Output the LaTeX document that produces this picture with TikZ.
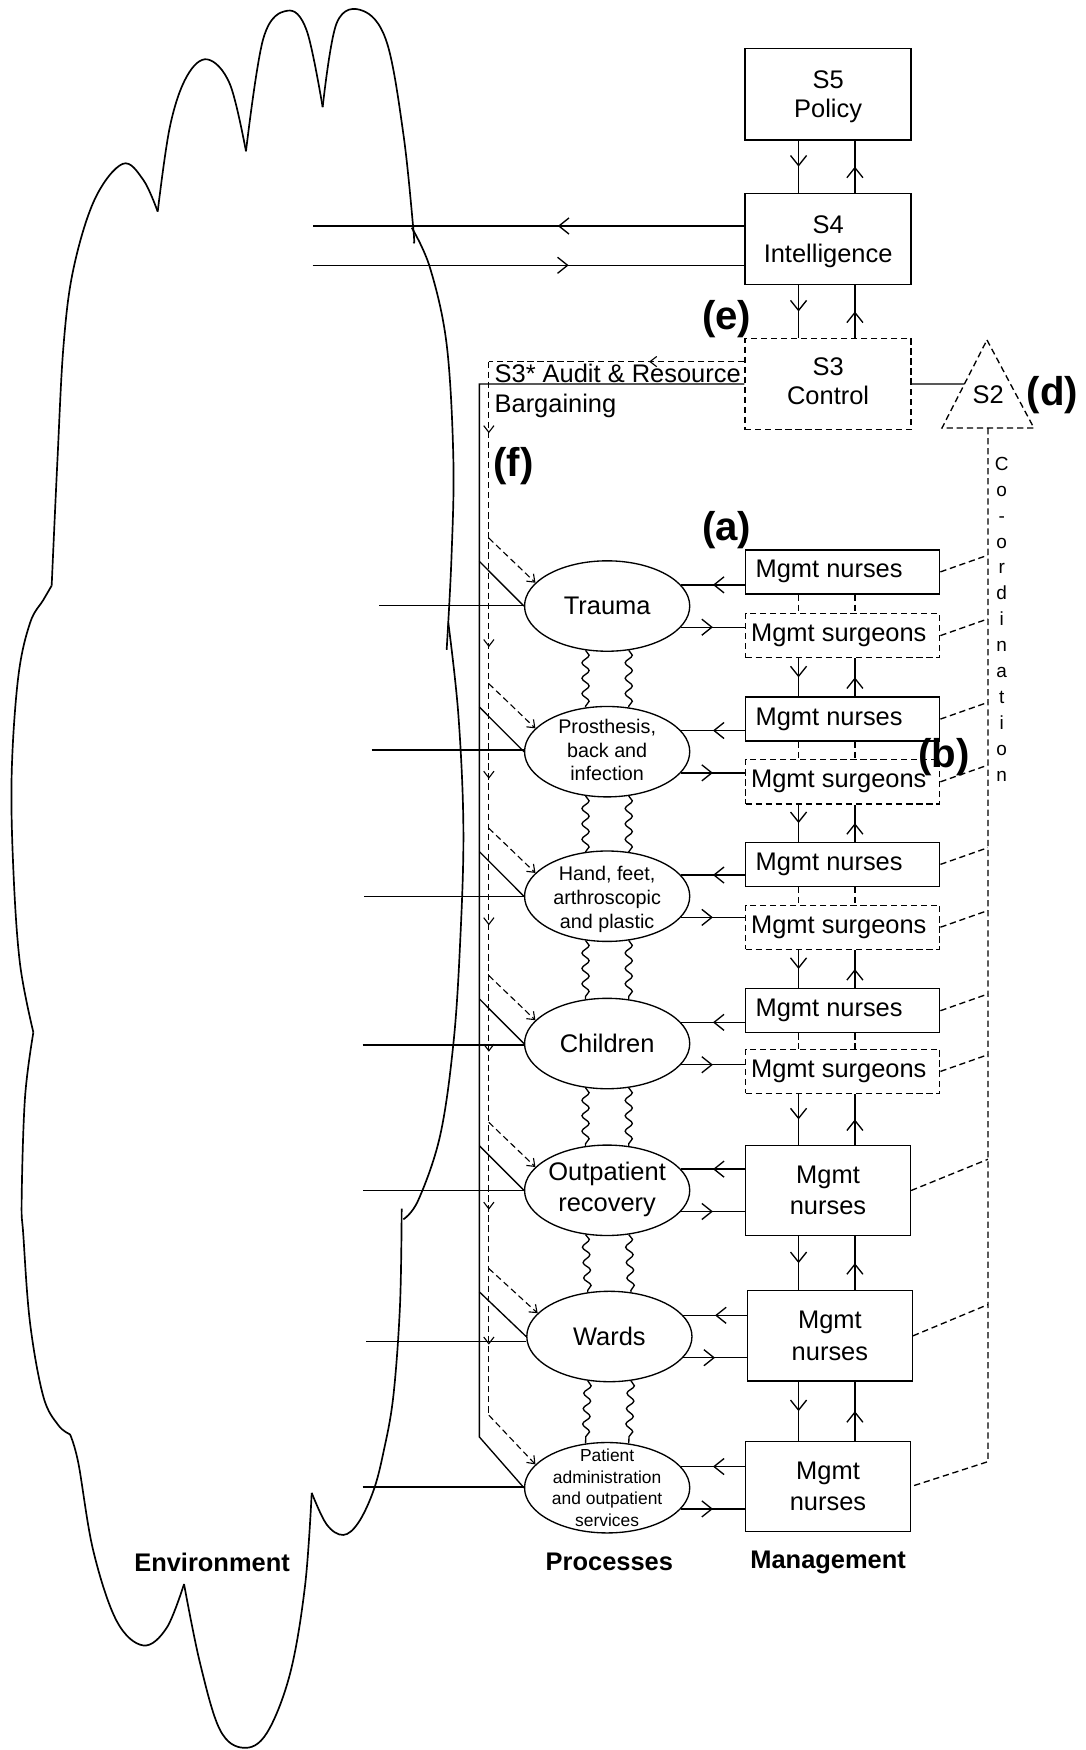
\documentclass[tikz,border=0pt]{standalone}
\usepackage{fontspec}
\setmainfont{Liberation Sans}
\usetikzlibrary{arrows.meta,decorations.markings,decorations.pathmorphing,calc,shapes.geometric}

\newcommand{\fsmain}{\fontsize{11.4}{13.6}\selectfont}
\newcommand{\fsbox}{\fontsize{11.4}{13}\selectfont}
\newcommand{\fstwo}{\fontsize{11.4}{14}\selectfont}
\newcommand{\fsmid}{\fontsize{8.85}{10.7}\selectfont}
\newcommand{\fssmall}{\fontsize{7.8}{9.65}\selectfont}
\newcommand{\fscoord}{\fontsize{8.5}{11.6}\selectfont}
\newcommand{\fstag}{\fontsize{18}{20}\selectfont\bfseries}
\newcommand{\fsfoot}{\fontsize{11.4}{13}\selectfont\bfseries}

\tikzset{
  >={Straight Barb[length=4.5pt,width=7.2pt]},
  smalltip/.tip={Straight Barb[length=3pt,width=4.6pt]},
  flow/.style={postaction={decorate},
    decoration={markings, mark=at position #1 with {\arrow{>}}}},
  flow/.default=0.5,
  dsh/.style={dash pattern=on 2.8pt off 1.7pt},
  topbox/.style={draw, minimum width=74.35pt, minimum height=41pt,
    inner sep=0pt, align=center, font=\fsbox},
  smallbox/.style={draw, minimum width=87pt, minimum height=19.75pt, inner sep=0pt},
  bigbox/.style={draw, minimum width=73.85pt, minimum height=40.5pt,
    inner sep=0pt, align=center, font=\fstwo},
  proc/.style={draw, ellipse, minimum width=74pt, minimum height=40.5pt, inner sep=0pt},
  ptxt/.style={inner sep=0pt, align=center, font=\fsmain},
  wave/.style={decorate, decoration={snake, amplitude=1.6pt, segment length=6.9pt}},
  lbl/.style={inner sep=0pt, font=\fsmain},
  tag/.style={inner sep=0pt, font=\fstag},
  foot/.style={inner sep=0pt, font=\fsfoot},
  cloud/.style={line width=0.75pt, line join=round},
  audit/.style={dsh, line width=0.5pt},
}

\begin{document}
\begin{tikzpicture}[x=0.5pt, y=-0.5pt, line width=0.6pt, font=\fsmain]
\fill[white] (0,0) rectangle (973,1568);
\useasboundingbox (0,0) rectangle (973,1568);

% ---------- Environment cloud ----------
\draw[cloud] plot[smooth, tension=0.6] coordinates {(29.9,925) (17.9,863.4) (11.9,777.7) (10.5,691.9) (16.4,606.2) (26.9,558.2) (38.8,537.6) (46.3,524.7)};
\draw[cloud] plot[smooth, tension=0.6] coordinates {(46.3,524.7) (51.5,411.5) (57,308.6) (66,240) (85,178.3) (110,146.8) (128.4,161.2) (141.3,189.6)};
\draw[cloud] plot[smooth, tension=0.6] coordinates {(141.3,189.6) (152.3,113.2) (167.3,68.6) (185.8,53.2) (206,75.4) (220.4,135.5)};
\draw[cloud] plot[smooth, tension=0.6] coordinates {(220.4,135.5) (236,34.3) (257.5,9.6) (274.8,27.4) (289.1,96)};
\draw[cloud] plot[smooth, tension=0.6] coordinates {(289.1,96) (301.7,20.6) (325,9.6) (346.5,37.7) (361.4,120) (370.4,205.8) (370.6,217)};
\draw[cloud] plot[smooth, tension=0.6] coordinates {(368.9,204) (385.3,240) (400.2,308.6) (406.2,411.5) (404.5,500) (400.2,582.2)};
\draw[cloud] plot[smooth, tension=0.6] coordinates {(401.7,558.2) (410.7,640.5) (415.2,743.4) (412.2,846.2) (406.2,935.4) (394.3,1017.7) (374.8,1075.3) (361.4,1092.5)};
\draw[cloud] plot[smooth, tension=0.6] coordinates {(359.9,1083) (358.4,1169.5) (352.4,1251.2) (343.5,1301.5) (334.5,1336) (321.1,1364.3) (307.6,1375.3) (292.7,1365.9) (279.3,1337.6)};
\draw[cloud] plot[smooth, tension=0.6] coordinates {(279.3,1337.6) (273.3,1420.9) (259.9,1499.5) (239,1552.9) (218,1566) (197,1549.7) (179.2,1490) (164.9,1419.3)};
\draw[cloud] plot[smooth, tension=0.6] coordinates {(164.9,1419.3) (149.3,1458.6) (128.4,1474.3) (104.5,1452.3) (83.6,1389.5) (70.2,1310.9) (62.7,1285.1)};
\draw[cloud] plot[smooth, tension=0.6] coordinates {(29.9,925) (22.4,983.4) (19.4,1075.3) (20.9,1106.6) (26.9,1185.2) (38.8,1251.2) (52.3,1277) (62.7,1285.1)};

% ---------- Meta-system boxes ----------
\node[topbox] (s5) at (742,84.4) {};
\node[inner sep=0pt, align=center, font=\fsbox] (s5t) at (742,87) {S5\\Policy};
\node[topbox] (s4) at (742,214.2) {};
\node[inner sep=0pt, align=center, font=\fsbox] (s4t) at (742,216.5) {S4\\Intelligence};
\node[topbox, dsh] (s3) at (742,344) {};
\node[inner sep=0pt, align=center, font=\fsbox] (s3t) at (742,342) {S3\\Control};

\coordinate (xd) at (715.5,0);
\coordinate (xu) at (766,0);

\draw[flow] (s5.south -| xd) -- (s4.north -| xd);
\draw[flow] (s4.north -| xu) -- (s5.south -| xu);
\draw[flow] (s4.south -| xd) -- (s3.north -| xd);
\draw[flow] (s3.north -| xu) -- (s4.south -| xu);

% S4 exchange with the environment
\coordinate (envA) at (280,202.5);
\coordinate (envB) at (280,237.7);
\draw[flow=0.432] (s4.west |- envA) -- (envA);
\draw[flow=0.593] (envB) -- (s4.west |- envB);

% S2 triangle
\coordinate (t1) at (884.3,304.6);
\coordinate (t2) at (926.4,383.5);
\coordinate (t3) at (844,383.5);
\draw[dsh] (t1) -- (t2) -- (t3) -- cycle;
\node[lbl] (s2) at (885.5,354) {S2};
\draw (s3.east) -- ($(t1)!0.5!(t3)$);

% ---------- Processes ----------
\node[proc] (p1) at (544,543) {};
\node[ptxt] (p1t) at (p1) {Trauma};
\node[proc] (p2) at (544,673.5) {};
\node[ptxt, font=\fsmid] (p2t) at (544,672) {Prosthesis,\\back and\\infection};
\node[proc] (p3) at (544,803) {};
\node[ptxt, font=\fsmid] (p3t) at (544,806) {Hand, feet,\\arthroscopic\\and plastic};
\node[proc] (p4) at (544,935) {};
\node[ptxt] (p4t) at (p4) {Children};
\node[proc] (p5) at (544,1066.5) {};
\node[ptxt, font=\fstwo] (p5t) at (544,1066) {Outpatient\\recovery};
\node[proc] (p6) at (546,1197.5) {};
\node[ptxt] (p6t) at (p6) {Wards};
\node[proc] (p7) at (544,1333) {};
\node[ptxt, font=\fssmall] (p7t) at (544,1333) {Patient\\administration\\and outpatient\\services};

% couplings between neighbouring processes
\foreach \a/\b in {p1/p2,p2/p3,p3/p4,p4/p5,p5/p6,p6/p7}{
  \draw[wave] (\a.244) -- (\b.116);
  \draw[wave] (\a.296) -- (\b.64);
}

% links to the environment
\coordinate (e1) at (340,542.7);
\coordinate (e2) at (333,672);
\coordinate (e3) at (326.2,803);
\coordinate (e4) at (325,936.3);
\coordinate (e5) at (325.6,1066.8);
\coordinate (e6) at (328,1202);
\coordinate (e7) at (325,1332.3);
\foreach \k in {1,...,7}{
  \draw (e\k) -- (e\k -| p\k.west);
}

% ---------- Management ----------
\node[smallbox] (n1) at (755,512.4) {};
\node[lbl, anchor=west] (n1t) at ($(n1.west)+(9,0)$) {Mgmt nurses};
\node[smallbox, dsh] (g1) at (755,569.5) {};
\node[lbl, anchor=west] (g1t) at ($(g1.west)+(5,0)$) {Mgmt surgeons};
\node[smallbox] (n2) at (755,644.3) {};
\node[lbl, anchor=west] (n2t) at ($(n2.west)+(9,0)$) {Mgmt nurses};
\node[smallbox, dsh] (g2) at (755,700.5) {};
\node[lbl, anchor=west] (g2t) at ($(g2.west)+(5,0)$) {Mgmt surgeons};
\node[smallbox] (n3) at (755,774.5) {};
\node[lbl, anchor=west] (n3t) at ($(n3.west)+(9,0)$) {Mgmt nurses};
\node[smallbox, dsh] (g3) at (755,830.8) {};
\node[lbl, anchor=west] (g3t) at ($(g3.west)+(5,0)$) {Mgmt surgeons};
\node[smallbox] (n4) at (755,905.6) {};
\node[lbl, anchor=west] (n4t) at ($(n4.west)+(9,0)$) {Mgmt nurses};
\node[smallbox, dsh] (g4) at (755,960) {};
\node[lbl, anchor=west] (g4t) at ($(g4.west)+(5,0)$) {Mgmt surgeons};
\node[bigbox] (n5) at (741.9,1066.7) {Mgmt\\nurses};
\node[bigbox] (n6) at (743.6,1196.9) {Mgmt\\nurses};
\node[bigbox] (n7) at (741.9,1331.9) {Mgmt\\nurses};

% process <-> management
\foreach \k in {1,...,4}{
  \draw[flow] (n\k.west |- p\k.16) -- (p\k.16);
  \draw[flow] (p\k.-16) -- (g\k.west |- p\k.-16);
  \draw[dsh] (n\k.south -| xd) -- (g\k.north -| xd);
  \draw[dsh] (n\k.south -| xu) -- (g\k.north -| xu);
}
\foreach \k in {5,6,7}{
  \draw[flow] (n\k.west |- p\k.16) -- (p\k.16);
  \draw[flow] (p\k.-16) -- (n\k.west |- p\k.-16);
}

% management hierarchy
\foreach \a/\b in {g1/n2,g2/n3,g3/n4,g4/n5,n5/n6,n6/n7}{
  \draw[flow] (\a.south -| xd) -- (\b.north -| xd);
  \draw[flow] (\b.north -| xu) -- (\a.south -| xu);
}

% ---------- S2 co-ordination channel ----------
\coordinate (cbase) at ($(t2)!0.5!(t3)$);
\coordinate (cend) at (885.2,1309.6);
\draw[dsh] (cbase) -- (cend) -- (n7.east);
\foreach \b in {n1,g1,n2,g2,n3,g3,n4,g4}{
  \draw[dsh] (\b.east) -- ($(\b.east -| cbase)+(0,-15)$);
}
\foreach \b in {n5,n6}{
  \draw[dsh] (\b.east) -- ($(\b.east -| cbase)+(0,-28)$);
}
\node[inner sep=0pt, align=center, font=\fscoord, anchor=north] (coord) at (897.5,409)
  {C\\o\\-\\o\\r\\d\\i\\n\\a\\t\\i\\o\\n};

% ---------- S3 resource bargaining (solid) ----------
\coordinate (ch) at (429.5,344);
\coordinate (chb) at (429.5,1287.5);
\draw (s3.west) -- (ch) -- (chb) -- (p7.west);
\foreach \k in {1,...,6}{
  \draw ($(p\k.west -| ch)+(0,-40)$) -- (p\k.west);
}

% ---------- S3* audit channel (dashed) ----------
\coordinate (au) at (438,324);
\coordinate (aub) at (438,1268);
\draw[audit, postaction={decorate},
  decoration={markings, mark=at position 0.373 with {\arrow{smalltip}}}]
  ($(s3.west)+(0,-20)$) -- (au);
\draw[audit, postaction={decorate},
  decoration={markings,
    mark=at position 0.068 with {\arrow{smalltip}},
    mark=at position 0.271 with {\arrow{smalltip}},
    mark=at position 0.396 with {\arrow{smalltip}},
    mark=at position 0.535 with {\arrow{smalltip}},
    mark=at position 0.655 with {\arrow{smalltip}},
    mark=at position 0.805 with {\arrow{smalltip}},
    mark=at position 0.933 with {\arrow{smalltip}}}]
  (au) -- (aub);
\draw[audit, -{smalltip}] (aub) -- (p7.162);
\foreach \k in {1,...,6}{
  \draw[audit, -{smalltip}] ($(p\k.162 -| au)+(0,-40)$) -- (p\k.162);
}
\node[lbl, anchor=base west] (auditlbl) at (442.6,343) {S3* Audit \& Resource};
\node[lbl, anchor=base west] (barglbl) at (442.6,370) {Bargaining};

% ---------- Tags ----------
\node[tag] (tage) at (651,286) {(e)};
\node[tag] (tagd) at (943,354) {(d)};
\node[tag] (taga) at (651,475) {(a)};
\node[tag] (tagf) at (460,418) {(f)};
\node[tag] (tagb) at (846,678) {(b)};

% ---------- Column headings ----------
\node[foot] (envlbl) at (190,1400) {Environment};
\node[foot] (proclbl) at (546,1399) {Processes};
\node[foot] (mgmtlbl) at (742,1400) {Management};
\end{tikzpicture}
\end{document}
